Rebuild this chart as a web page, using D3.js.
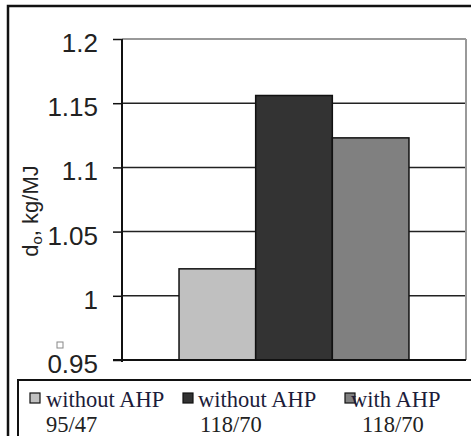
<!DOCTYPE html>
<html>
<head>
<meta charset="utf-8">
<script src="https://cdnjs.cloudflare.com/ajax/libs/d3/7.8.5/d3.min.js"></script>
<style>
  body { margin: 0; background: #fff; }
</style>
</head>
<body>
<div id="chart"></div>
<script>
// series shown in the chart
var seriesTop = ["without AHP", "without AHP", "with AHP"];
var seriesBottom = ["95/47", "118/70", "118/70"];
var values = [1.021, 1.156, 1.123];
var colors = ["#c0c0c0", "#333333", "#808080"];
var yTicks = [0.95, 1, 1.05, 1.1, 1.15, 1.2];

window.onload = function () {
    var width = 471, height = 436;

    var svg = d3.select("#chart").append("svg")
        .attr("width", width).attr("height", height);

    // outer frame (runs off the right and bottom edges)
    svg.append("rect").attr("x", 8).attr("y", 6)
        .attr("width", 500).attr("height", 500)
        .attr("fill", "none").attr("stroke", "#111").attr("stroke-width", 2.5);

    //Plot area bounds.
    var left = 122, right = 466, top = 39, bottom = 360;

    var y = d3.scaleLinear().domain([0.95, 1.2]).range([bottom, top]);

    var ids = values.map(function (d, i) { return i; });
    var x0 = d3.scaleBand().domain(["all"]).range([left, right])
        .paddingInner(0).paddingOuter(0.248);
    var x1 = d3.scaleBand().domain(ids).range([0, x0.bandwidth()]);

    //Gridlines, the top one is the grey plot border.
    svg.selectAll("line.grid").data(yTicks.slice(1)).enter()
        .append("line").attr("class", "grid")
        .attr("x1", left).attr("x2", right)
        .attr("y1", function (d) { return y(d); })
        .attr("y2", function (d) { return y(d); })
        .attr("stroke", function (d) { return d === 1.2 ? "#999" : "#222"; })
        .attr("stroke-width", function (d) { return d === 1.2 ? 2 : 1.5; });

    svg.append("line").attr("x1", right).attr("x2", right)
        .attr("y1", top).attr("y2", bottom)
        .attr("stroke", "#999").attr("stroke-width", 2);

    //Draw the bars.
    svg.selectAll("rect.bar").data(values).enter()
        .append("rect").attr("class", "bar")
        .attr("x", function (d, i) { return x0("all") + x1(i); })
        .attr("y", function (d) { return y(d); })
        .attr("width", x1.bandwidth())
        .attr("height", function (d) { return bottom - y(d); })
        .attr("fill", function (d, i) { return colors[i]; })
        .attr("stroke", "#111").attr("stroke-width", 1.5);

    //Y axis.
    var yAxis = d3.axisLeft(y).tickValues(yTicks).tickSize(9).tickPadding(15)
        .tickFormat(d3.format(""));
    var gy = svg.append("g").attr("transform", "translate(" + left + ",0)").call(yAxis);
    gy.select(".domain").remove();
    gy.selectAll(".tick line").attr("stroke", "#111").attr("stroke-width", 1.5);
    gy.selectAll(".tick text")
        .attr("font-family", "Liberation Sans, Arial, sans-serif")
        .attr("font-size", 26).attr("fill", "#222")
        .attr("dy", "0.48em");
    svg.append("line").attr("x1", left).attr("x2", left)
        .attr("y1", top).attr("y2", bottom + 2)
        .attr("stroke", "#111").attr("stroke-width", 2);
    svg.append("line").attr("x1", left - 9).attr("x2", right)
        .attr("y1", bottom).attr("y2", bottom)
        .attr("stroke", "#111").attr("stroke-width", 2);

    //Y axis title with subscript.
    var title = svg.append("text")
        .attr("transform", "translate(38,211) rotate(-90)")
        .attr("text-anchor", "middle")
        .attr("font-family", "Liberation Sans, Arial, sans-serif")
        .attr("font-size", 22).attr("fill", "#222");
    title.append("tspan").text("d");
    title.append("tspan").attr("font-size", 15).attr("dy", 4).text("o");
    title.append("tspan").attr("dy", -4).text(", kg/MJ");

    // small stray marker above 0.95
    svg.append("rect").attr("x", 57).attr("y", 342).attr("width", 6).attr("height", 6)
        .attr("fill", "#fff").attr("stroke", "#888").attr("stroke-width", 1);

    //Legend box.
    svg.append("rect").attr("x", 18).attr("y", 380)
        .attr("width", 500).attr("height", 100)
        .attr("fill", "none").attr("stroke", "#111").attr("stroke-width", 2);

    var legendX = [30, 183, 345];
    var legendText1 = [16, 15, 6];
    var legendText2 = [16, 17, 17];

    var lg = svg.selectAll("g.legend").data(values).enter()
        .append("g").attr("class", "legend")
        .attr("transform", function (d, i) { return "translate(" + legendX[i] + ",0)"; });
    lg.append("rect").attr("x", 0).attr("y", 393).attr("width", 10).attr("height", 10)
        .attr("fill", function (d, i) { return colors[i]; })
        .attr("stroke", "#111").attr("stroke-width", 1.2);
    lg.append("text").attr("x", function (d, i) { return legendText1[i]; }).attr("y", 407)
        .attr("font-family", "Liberation Serif, Times New Roman, serif")
        .attr("font-size", 22.5).attr("fill", "#1c1c3a")
        .text(function (d, i) { return seriesTop[i]; });
    lg.append("text").attr("x", function (d, i) { return legendText2[i]; }).attr("y", 432)
        .attr("font-family", "Liberation Serif, Times New Roman, serif")
        .attr("font-size", 22.5).attr("fill", "#222")
        .text(function (d, i) { return seriesBottom[i]; });
};
</script>
</body>
</html>
